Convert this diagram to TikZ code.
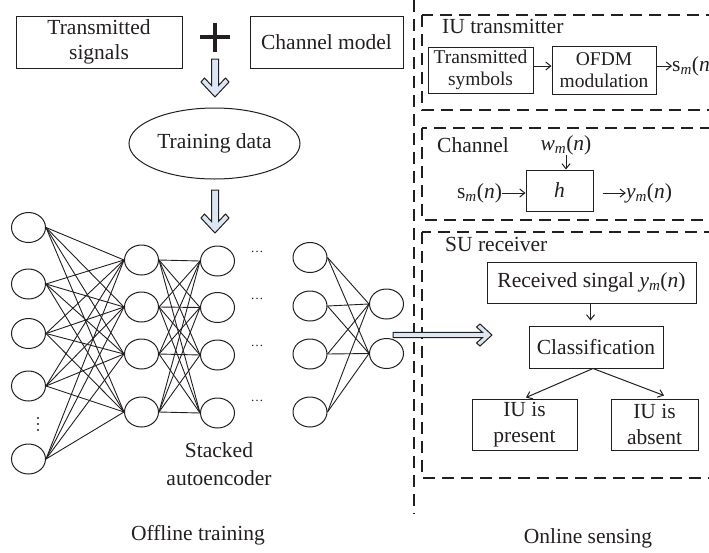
\documentclass[tikz,border=0pt]{standalone}
\usepackage{fontspec}
\setmainfont{Liberation Serif}
\usetikzlibrary{arrows.meta,shapes.geometric}

\definecolor{ink}{RGB}{35,31,32}
\definecolor{arrowfill}{RGB}{221,231,244}

% signal symbols
\newcommand{\sigs}{s\textsubscript{\textit{m}}(\textit{n})}
\newcommand{\sigw}{\textit{w}\textsubscript{\textit{m}}(\textit{n})}
\newcommand{\sigy}{\textit{y}\textsubscript{\textit{m}}(\textit{n})}

% hollow block arrows: tip x, tip y, rotation, shaft length
\newcommand{\bigarrowV}[4]{%
  \draw[hollowarrow, shift={(#1,#2)}, rotate=#3]
    (-#4,-3.5) -- (-11.5,-3.5) -- (-19,-10.5) -- (-15,-14) -- (0,0)
    -- (-15,14) -- (-19,10.5) -- (-11.5,3.5) -- (-#4,3.5) -- cycle;}
\newcommand{\bigarrowH}[4]{%
  \draw[hollowarrow, shift={(#1,#2)}, rotate=#3]
    (-#4,-2.6) -- (-9.5,-2.6) -- (-15.5,-8) -- (-12,-11) -- (0,0)
    -- (-12,11) -- (-15.5,8) -- (-9.5,2.6) -- (-#4,2.6) -- cycle;}

\tikzset{
  box/.style={draw=ink, line width=1pt, inner sep=0pt, align=center},
  neuron/.style={ellipse, draw=ink, line width=1pt, minimum width=34pt,
                 minimum height=30pt, inner sep=0pt},
  netline/.style={draw=ink, line width=0.9pt},
  dashbox/.style={draw=ink, line width=1.2pt, dash pattern=on 12pt off 7pt},
  arr/.style={draw=ink, line width=1pt, -{Straight Barb[length=5pt,width=8pt]}},
  hollowarrow/.style={draw=ink, line width=1pt, fill=arrowfill, line join=miter},
  smallfont/.style={font=\fontsize{19.5}{22}\selectfont},
}

\begin{document}
\begin{tikzpicture}[x=1pt, y=-1pt, text=ink, inner sep=0pt,
  font=\fontsize{21.5}{25.5}\selectfont]
\useasboundingbox (0,0) rectangle (709,552);

% ---------------- offline training ----------------
\node[box, minimum width=166pt, minimum height=52pt] (tsig) at (99,42) {Transmitted\\signals};
\node[box, minimum width=153pt, minimum height=52pt] (chm) at (326.5,42) {Channel model};
\draw[ink, line width=4.5pt] (200,37) -- (230,37);
\draw[ink, line width=4.5pt] (215,22.5) -- (215,51.5);

\node[ellipse, draw=ink, line width=1pt, minimum width=171pt, minimum height=71pt,
      inner sep=0pt] (train) at (214.5,143.5) {Training data};

\bigarrowV{215}{97}{-90}{38}
\bigarrowV{215}{233}{-90}{43}

% stacked autoencoder layers
\foreach \y [count=\i] in {227.5,284,333.5,386,459}
  \node[neuron] (a\i) at (28.5,\y) {};
\foreach \y [count=\i] in {260,307,354,412}
  \node[neuron] (b\i) at (141.5,\y) {};
\foreach \y [count=\i] in {261,307.5,355,413}
  \node[neuron] (c\i) at (217.5,\y) {};
\foreach \y [count=\i] in {257.5,306,354,412}
  \node[neuron] (d\i) at (310,\y) {};
\foreach \y [count=\i] in {304,353.5}
  \node[neuron] (e\i) at (386.5,\y) {};

\foreach \i in {1,...,5}
  \foreach \j in {1,...,4}
    \draw[netline] (a\i.east) -- (b\j.west);
\foreach \i in {1,...,4}
  \foreach \j in {1,...,4}
    \draw[netline] (b\i.east) -- (c\j.west);
\foreach \i in {1,...,4}
  \foreach \j in {1,2}
    \draw[netline] (d\i.east) -- (e\j.west);

\foreach \y [count=\i] in {251.7,299,345.7,401}
  \node[font=\fontsize{13}{13}\selectfont] (dots\i) at (257,\y) {\ldots};
\foreach \y in {418,424,430}
  \fill[ink] (38,\y) circle (1.1pt);

\node[align=center, font=\fontsize{21.5}{28}\selectfont] (sae) at (219,464) {Stacked\\autoencoder};

\node (offl) at (198,535) {Offline training};
\node (onl) at (588,538.5) {Online sensing};

% separator between the two phases
\draw[ink, line width=1.2pt, dash pattern=on 12pt off 7pt] (414,0) -- (414,514);

% ---------------- online sensing ----------------
\draw[dashbox] (422,15) rectangle (722,110);
\draw[dashbox] (422,128) rectangle (722,220);
\draw[dashbox] (422,232) rectangle (722,478);

% IU transmitter
\node[anchor=west] (iulab) at (442,26) {IU transmitter};
\node[box, smallfont, minimum width=105pt, minimum height=46pt] (tsym) at (480.5,70) {Transmitted\\symbols};
\node[box, smallfont, minimum width=104pt, minimum height=48pt] (ofdm) at (604,70) {OFDM\\modulation};
\draw[arr] (tsym.east |- 0,66) -- (ofdm.west |- 0,66);
\node[anchor=west] (sout) at (672,66) {\sigs};
\draw[arr] (ofdm.east |- sout.west) -- (sout.west);

% channel
\node[anchor=west] (chlab) at (437,145) {Channel};
\node (wm) at (566,145) {\sigw};
\node[box, minimum width=67pt, minimum height=41pt] (hbox) at (559.5,190.5) {\textit{h}};
\draw[arr] (wm.south) -- (wm.south |- hbox.north);
\node (sin) at (479.5,193) {\sigs};
\draw[arr] (sin.east) -- (sin.east -| hbox.west);
\node (yout) at (649,193) {\sigy};
\coordinate (hout) at ([xshift=9pt]hbox.east);
\draw[arr] (hout |- yout.west) -- (yout.west);

% SU receiver
\node[anchor=west] (sulab) at (445,244) {SU receiver};
\node[box, minimum width=209pt, minimum height=41pt] (rx) at (591.5,282.5) {Received singal \sigy};
\node[box, minimum width=134pt, minimum height=42pt] (cls) at (596,347) {Classification};
\draw[arr] ([xshift=-1pt]rx.south) -- ++(0,17);
\node[box, minimum width=105pt, minimum height=51pt] (pres) at (524.5,424.5) {IU is\\present};
\node[box, minimum width=87pt, minimum height=51pt] (absn) at (654.5,424.5) {IU is\\absent};
\coordinate (split) at ([xshift=-3pt]cls.south);
\draw[arr] (split) -- ([xshift=1.5pt,yshift=1pt]pres.north);
\draw[arr] (split) -- ([xshift=9.5pt,yshift=3pt]absn.north);

% hand-over from the trained network to the receiver
\bigarrowH{492}{335}{0}{99}

\end{tikzpicture}
\end{document}
